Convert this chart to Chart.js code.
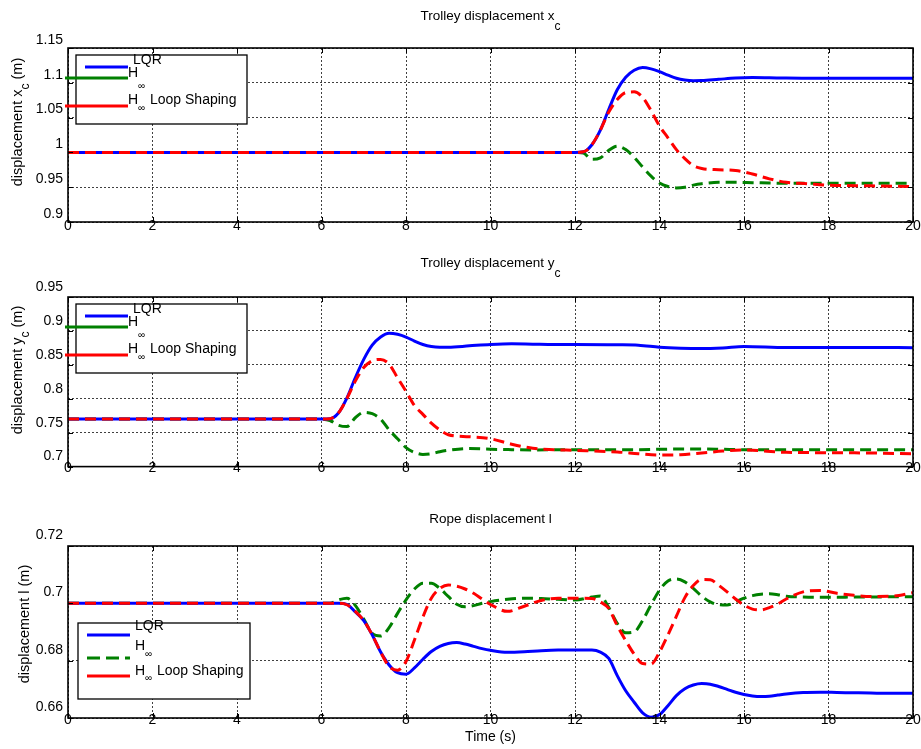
<!DOCTYPE html>
<html>
<head>
<meta charset="utf-8">
<script src="https://cdn.jsdelivr.net/npm/chart.js@4.4.1/dist/chart.umd.min.js"></script>
<style>
  html, body { margin: 0; padding: 0; background: #fff; }
  #wrap { position: relative; width: 921px; height: 749px; overflow: hidden; }
  #wrap canvas { position: absolute; left: 0; }
</style>
</head>
<body>
<div id="wrap">
  <canvas id="cx" width="921" height="250" style="top:0px"></canvas>
  <canvas id="cy" width="921" height="230" style="top:250px"></canvas>
  <canvas id="cl" width="921" height="269" style="top:480px"></canvas>
</div>
<script>
// ---- series names and axis ticks ----
const seriesNames = ['LQR', 'H∞', 'H∞ Loop Shaping'];
const timeTicks = [0, 2, 4, 6, 8, 10, 12, 14, 16, 18, 20];
const xcTicks = [0.9, 0.95, 1, 1.05, 1.1, 1.15];
const ycTicks = [0.7, 0.75, 0.8, 0.85, 0.9, 0.95];
const ropeTicks = [0.66, 0.68, 0.7, 0.72];

// ---- trolley displacement x_c (m) ----
const xcTime = [0, 12, 12.2, 12.4, 12.6, 12.8, 13.0, 13.2, 13.4, 13.6, 13.8, 14.0, 14.2, 14.4, 14.6, 14.8, 15.0, 15.4, 15.8, 16.2, 16.6, 17.0, 17.5, 18, 19, 20];
const xcLQR  = [1.0, 1.0, 1.0008, 1.011, 1.032, 1.062, 1.090, 1.108, 1.118, 1.122, 1.120, 1.116, 1.111, 1.1065, 1.1040, 1.1030, 1.1032, 1.1050, 1.1068, 1.1075, 1.1072, 1.1068, 1.1066, 1.1065, 1.1065, 1.1065];
const xcHinf = [1.0, 1.0, 0.999, 0.990, 0.992, 1.003, 1.009, 1.004, 0.993, 0.979, 0.966, 0.956, 0.951, 0.949, 0.950, 0.953, 0.955, 0.957, 0.957, 0.9565, 0.956, 0.9556, 0.9556, 0.9556, 0.9556, 0.9556];
const xcLoop = [1.0, 1.0, 1.0008, 1.011, 1.032, 1.058, 1.076, 1.086, 1.087, 1.079, 1.060, 1.038, 1.021, 1.004, 0.991, 0.981, 0.977, 0.975, 0.974, 0.969, 0.962, 0.957, 0.955, 0.953, 0.952, 0.951];

// ---- trolley displacement y_c (m) ----
const ycTime = [0, 6, 6.2, 6.4, 6.6, 6.8, 7.0, 7.2, 7.4, 7.6, 7.8, 8.0, 8.2, 8.4, 8.6, 8.8, 9.0, 9.5, 10, 10.5, 11, 11.5, 12, 13, 13.5, 14, 14.5, 15, 15.5, 16, 17, 18, 19, 20];
const ycLQR  = [0.77, 0.77, 0.7705, 0.779, 0.801, 0.831, 0.858, 0.879, 0.891, 0.8965, 0.895, 0.891, 0.885, 0.880, 0.877, 0.876, 0.876, 0.878, 0.880, 0.881, 0.8805, 0.880, 0.880, 0.8795, 0.879, 0.876, 0.8745, 0.874, 0.875, 0.877, 0.8755, 0.8755, 0.8755, 0.8753];
const ycHinf = [0.77, 0.77, 0.768, 0.761, 0.759, 0.772, 0.780, 0.778, 0.770, 0.754, 0.741, 0.728, 0.721, 0.718, 0.719, 0.722, 0.724, 0.7265, 0.7256, 0.725, 0.7245, 0.7248, 0.725, 0.725, 0.725, 0.7255, 0.726, 0.726, 0.7255, 0.725, 0.725, 0.725, 0.725, 0.725];
const ycLoop = [0.77, 0.77, 0.7705, 0.779, 0.800, 0.826, 0.846, 0.856, 0.858, 0.851, 0.831, 0.811, 0.790, 0.777, 0.764, 0.754, 0.747, 0.744, 0.741, 0.733, 0.727, 0.725, 0.724, 0.7215, 0.719, 0.717, 0.7175, 0.720, 0.723, 0.7245, 0.721, 0.7205, 0.720, 0.719];

// ---- rope displacement l (m) ----
const ropeTime = [0, 6, 6.2, 6.4, 6.6, 6.8, 7.0, 7.2, 7.4, 7.6, 7.8, 8.0, 8.2, 8.4, 8.6, 8.8, 9.0, 9.2, 9.4, 9.6, 9.8, 10.0, 10.4, 10.8, 11.2, 11.6, 12.0, 12.4, 12.6, 12.8, 13.0, 13.2, 13.4, 13.6, 13.8, 14.0, 14.2, 14.4, 14.6, 14.8, 15.0, 15.2, 15.4, 15.6, 15.8, 16.0, 16.2, 16.4, 16.6, 16.8, 17.0, 17.4, 17.8, 18.2, 18.6, 19.0, 19.5, 20];
const ropeLQR  = [0.7, 0.7, 0.7, 0.7, 0.6996, 0.6970, 0.6940, 0.6890, 0.6830, 0.6785, 0.6758, 0.6753, 0.6775, 0.6805, 0.6832, 0.6850, 0.6860, 0.6863, 0.6858, 0.6850, 0.6842, 0.6836, 0.6829, 0.6831, 0.6835, 0.6837, 0.6837, 0.6837, 0.6830, 0.6808, 0.6748, 0.6695, 0.6655, 0.6618, 0.6603, 0.6612, 0.6643, 0.6678, 0.6702, 0.6715, 0.6720, 0.6718, 0.6710, 0.6700, 0.6690, 0.6682, 0.6677, 0.6675, 0.6676, 0.6680, 0.6684, 0.6689, 0.6690, 0.6689, 0.6688, 0.6687, 0.6686, 0.6686];
const ropeHinf = [0.7, 0.7, 0.7, 0.7012, 0.7018, 0.6993, 0.6945, 0.6895, 0.6886, 0.6915, 0.6965, 0.7012, 0.7050, 0.7070, 0.7070, 0.7052, 0.7024, 0.6997, 0.6988, 0.6992, 0.7000, 0.7006, 0.7014, 0.7018, 0.7017, 0.7014, 0.7012, 0.7022, 0.7026, 0.6985, 0.6930, 0.6897, 0.6900, 0.6940, 0.6995, 0.7046, 0.7078, 0.7085, 0.7075, 0.7052, 0.7025, 0.7005, 0.6995, 0.6994, 0.7005, 0.7018, 0.7027, 0.7032, 0.7033, 0.7030, 0.7025, 0.7022, 0.7021, 0.7021, 0.7022, 0.7022, 0.7023, 0.7023];
const ropeLoop = [0.7, 0.7, 0.7, 0.7, 0.6995, 0.6972, 0.6940, 0.6890, 0.6830, 0.6780, 0.6767, 0.6797, 0.6872, 0.6952, 0.7018, 0.7052, 0.7064, 0.7060, 0.7050, 0.7035, 0.7015, 0.6996, 0.6972, 0.6990, 0.7010, 0.7018, 0.7018, 0.7017, 0.7005, 0.6982, 0.6922, 0.6870, 0.6823, 0.6790, 0.6788, 0.6830, 0.6890, 0.6955, 0.7020, 0.7062, 0.7083, 0.7082, 0.7063, 0.7040, 0.7015, 0.6994, 0.6980, 0.6977, 0.6985, 0.6998, 0.7015, 0.7040, 0.7045, 0.7035, 0.7028, 0.7024, 0.7025, 0.7037];

// ---- styling ----
const FONT = '"Liberation Sans", Arial, Helvetica, sans-serif';
const seriesStyle = [
  { color: '#0000ff', dash: [], order: 1 },        // LQR
  { color: '#008000', dash: [11, 6], order: 2 },   // H-infinity
  { color: '#ff0000', dash: [11, 6], order: 0 }    // H-infinity loop shaping
];

function pts(t, v) { return t.map((x, i) => ({ x: x, y: v[i] })); }

function fmt(v) { return String(parseFloat(Number(v).toFixed(3))); }

// text with an optional subscript; returns the width drawn
function drawSub(ctx, main, sub, rest, x, y, size, subSize, subDy) {
  ctx.font = size + 'px ' + FONT;
  ctx.fillText(main, x, y);
  let w = ctx.measureText(main).width;
  if (sub) {
    ctx.font = subSize + 'px ' + FONT;
    ctx.fillText(sub, x + w, y + subDy);
    w += ctx.measureText(sub).width;
  }
  if (rest) {
    ctx.font = size + 'px ' + FONT;
    ctx.fillText(rest, x + w, y);
    w += ctx.measureText(rest).width;
  }
  return w;
}
function measureSub(ctx, main, sub, rest, size, subSize) {
  ctx.font = size + 'px ' + FONT;
  let w = ctx.measureText(main).width + (rest ? ctx.measureText(rest).width : 0);
  if (sub) { ctx.font = subSize + 'px ' + FONT; w += ctx.measureText(sub).width; }
  return w;
}

// frame, inward ticks, time labels, titles and boxed legend
const panelDecor = {
  id: 'panelDecor',
  afterDraw(chart, args, o) {
    const ctx = chart.ctx, a = chart.chartArea;
    const xs = chart.scales.x, ys = chart.scales.y;
    ctx.save();
    ctx.setLineDash([]);
    // short tick marks pointing inwards
    ctx.strokeStyle = '#000';
    ctx.lineWidth = 1;
    ctx.beginPath();
    xs.ticks.forEach(t => {
      const p = Math.round(xs.getPixelForValue(t.value)) + 0.5;
      ctx.moveTo(p, a.bottom); ctx.lineTo(p, a.bottom - 5);
      ctx.moveTo(p, a.top); ctx.lineTo(p, a.top + 5);
    });
    ys.ticks.forEach(t => {
      const p = Math.round(ys.getPixelForValue(t.value)) + 0.5;
      ctx.moveTo(a.left, p); ctx.lineTo(a.left + 5, p);
      ctx.moveTo(a.right, p); ctx.lineTo(a.right - 5, p);
    });
    ctx.stroke();
    // axes box
    ctx.lineWidth = 1.6;
    ctx.strokeRect(a.left, a.top, a.right - a.left, a.bottom - a.top);

    ctx.fillStyle = '#000';
    ctx.textBaseline = 'middle';

    // time tick labels sitting on the lower axis line
    ctx.font = '14px ' + FONT;
    ctx.textAlign = 'center';
    xs.ticks.forEach(t => {
      ctx.fillText(fmt(t.value), xs.getPixelForValue(t.value), a.bottom + o.xLabelDy);
    });
    ctx.textAlign = 'left';

    // title
    const cx = (a.left + a.right) / 2;
    const tw = measureSub(ctx, o.title, o.titleSub, '', 13.5, 12);
    drawSub(ctx, o.title, o.titleSub, '', cx - tw / 2, a.top + o.titleDy, 13.5, 12, 11);

    // y-axis title, rotated
    ctx.save();
    ctx.translate(o.yTitleX, a.top + o.yTitleDy);
    ctx.rotate(-Math.PI / 2);
    const yw = measureSub(ctx, o.yTitle, o.yTitleSub, o.yTitleRest, 14.5, 12);
    drawSub(ctx, o.yTitle, o.yTitleSub, o.yTitleRest, -yw / 2, 0, 14.5, 12, 8);
    ctx.restore();

    // x-axis title
    if (o.xTitle) {
      ctx.font = '14px ' + FONT;
      ctx.textAlign = 'center';
      ctx.fillText(o.xTitle, cx, a.bottom + 19);
      ctx.textAlign = 'left';
    }

    // legend box
    const L = o.legend;
    const bx = a.left + L.left, by = a.top + L.top;
    ctx.fillStyle = '#fff';
    ctx.fillRect(bx, by, L.width, L.height);
    ctx.strokeStyle = '#000';
    ctx.lineWidth = 1.3;
    ctx.strokeRect(bx, by, L.width, L.height);
    ctx.fillStyle = '#000';
    L.rows.forEach((r, i) => {
      const ds = chart.data.datasets[i];
      ctx.save();
      ctx.strokeStyle = ds.borderColor;
      ctx.lineWidth = 3;
      ctx.setLineDash(r.dashed ? [13, 6] : []);
      ctx.beginPath();
      ctx.moveTo(bx + r.x0, by + r.ly);
      ctx.lineTo(bx + 52, by + r.ly);
      ctx.stroke();
      ctx.restore();
      const name = ds.label;
      if (name.startsWith('H∞')) {
        drawSub(ctx, 'H', '∞', '', bx + r.tx, by + r.ty, 14, 10, r.subDy);
        ctx.font = '14px ' + FONT;
        const hw = ctx.measureText('H').width;
        if (name.length > 2) {
          ctx.fillText(name.slice(2), bx + r.tx + hw + 8, by + r.ty);
        }
      } else {
        ctx.font = '14px ' + FONT;
        ctx.fillText(name, bx + r.tx, by + r.ty);
      }
    });
    ctx.restore();
  }
};

function makeChart(id, time, series, yTicks, pad, xAxisH, deco, labelOffset) {
  const datasets = series.map((vals, i) => ({
    label: seriesNames[i],
    data: pts(time, vals),
    borderColor: seriesStyle[i].color,
    borderDash: seriesStyle[i].dash,
    borderWidth: 3,
    pointRadius: 0,
    fill: false,
    cubicInterpolationMode: 'monotone',
    order: seriesStyle[i].order
  }));
  return new Chart(document.getElementById(id), {
    type: 'line',
    data: { datasets: datasets },
    options: {
      responsive: false,
      animation: false,
      events: [],
      layout: { padding: { top: pad, right: 8, left: 0, bottom: 0 } },
      plugins: {
        legend: { display: false },
        tooltip: { enabled: false },
        title: { display: false },
        panelDecor: deco
      },
      scales: {
        x: {
          type: 'linear',
          min: 0, max: 20,
          afterBuildTicks: s => { s.ticks = timeTicks.map(v => ({ value: v })); },
          afterFit: s => { s.height = xAxisH; },
          ticks: { display: false },
          grid: { color: 'rgba(0,0,0,0.75)', lineWidth: 1, drawTicks: false },
          border: { display: false, dash: [2, 2] }
        },
        y: {
          type: 'linear',
          min: yTicks[0], max: yTicks[yTicks.length - 1],
          afterBuildTicks: s => { s.ticks = yTicks.map(v => ({ value: v })); },
          afterFit: s => { s.width = 68; },
          ticks: { color: '#000', font: { family: FONT, size: 14 }, padding: 5, labelOffset: labelOffset, callback: v => fmt(v) },
          grid: { color: 'rgba(0,0,0,0.75)', lineWidth: 1, drawTicks: false },
          border: { display: false, dash: [2, 2] }
        }
      }
    },
    plugins: [panelDecor]
  });
}

const legendTop = {
  left: 8, top: 7, width: 171, height: 69,
  rows: [
    { x0: 9,   ly: 12, tx: 57, ty: 5,  subDy: 0 },
    { x0: -11, ly: 23, tx: 52, ty: 18, subDy: 13 },
    { x0: -11, ly: 51, tx: 52, ty: 45, subDy: 8 }
  ]
};
const legendBottom = {
  left: 10, top: 77, width: 172, height: 76,
  rows: [
    { x0: 9, ly: 12, tx: 57, ty: 3,  subDy: 0 },
    { x0: 9, ly: 35, tx: 57, ty: 23, subDy: 8, dashed: true },
    { x0: 9, ly: 53, tx: 57, ty: 48, subDy: 7 }
  ]
};

makeChart('cx', xcTime, [xcLQR, xcHinf, xcLoop], xcTicks, 48, 28, {
  title: 'Trolley displacement x', titleSub: 'c', titleDy: -32, xLabelDy: 4,
  yTitle: 'displacement x', yTitleSub: 'c', yTitleRest: ' (m)', yTitleX: 18, yTitleDy: 74,
  legend: legendTop
}, -8);

makeChart('cy', ycTime, [ycLQR, ycHinf, ycLoop], ycTicks, 47, 10, {
  title: 'Trolley displacement y', titleSub: 'c', titleDy: -34, xLabelDy: 2,
  yTitle: 'displacement y', yTitleSub: 'c', yTitleRest: ' (m)', yTitleX: 18, yTitleDy: 73,
  legend: legendTop
}, -10);

makeChart('cl', ropeTime, [ropeLQR, ropeHinf, ropeLoop], ropeTicks, 66, 31, {
  title: 'Rope displacement l', titleSub: '', titleDy: -27, xLabelDy: 2,
  yTitle: 'displacement l (m)', yTitleSub: '', yTitleRest: '', yTitleX: 25, yTitleDy: 78,
  xTitle: 'Time (s)',
  legend: legendBottom
}, -11);
</script>
</body>
</html>
